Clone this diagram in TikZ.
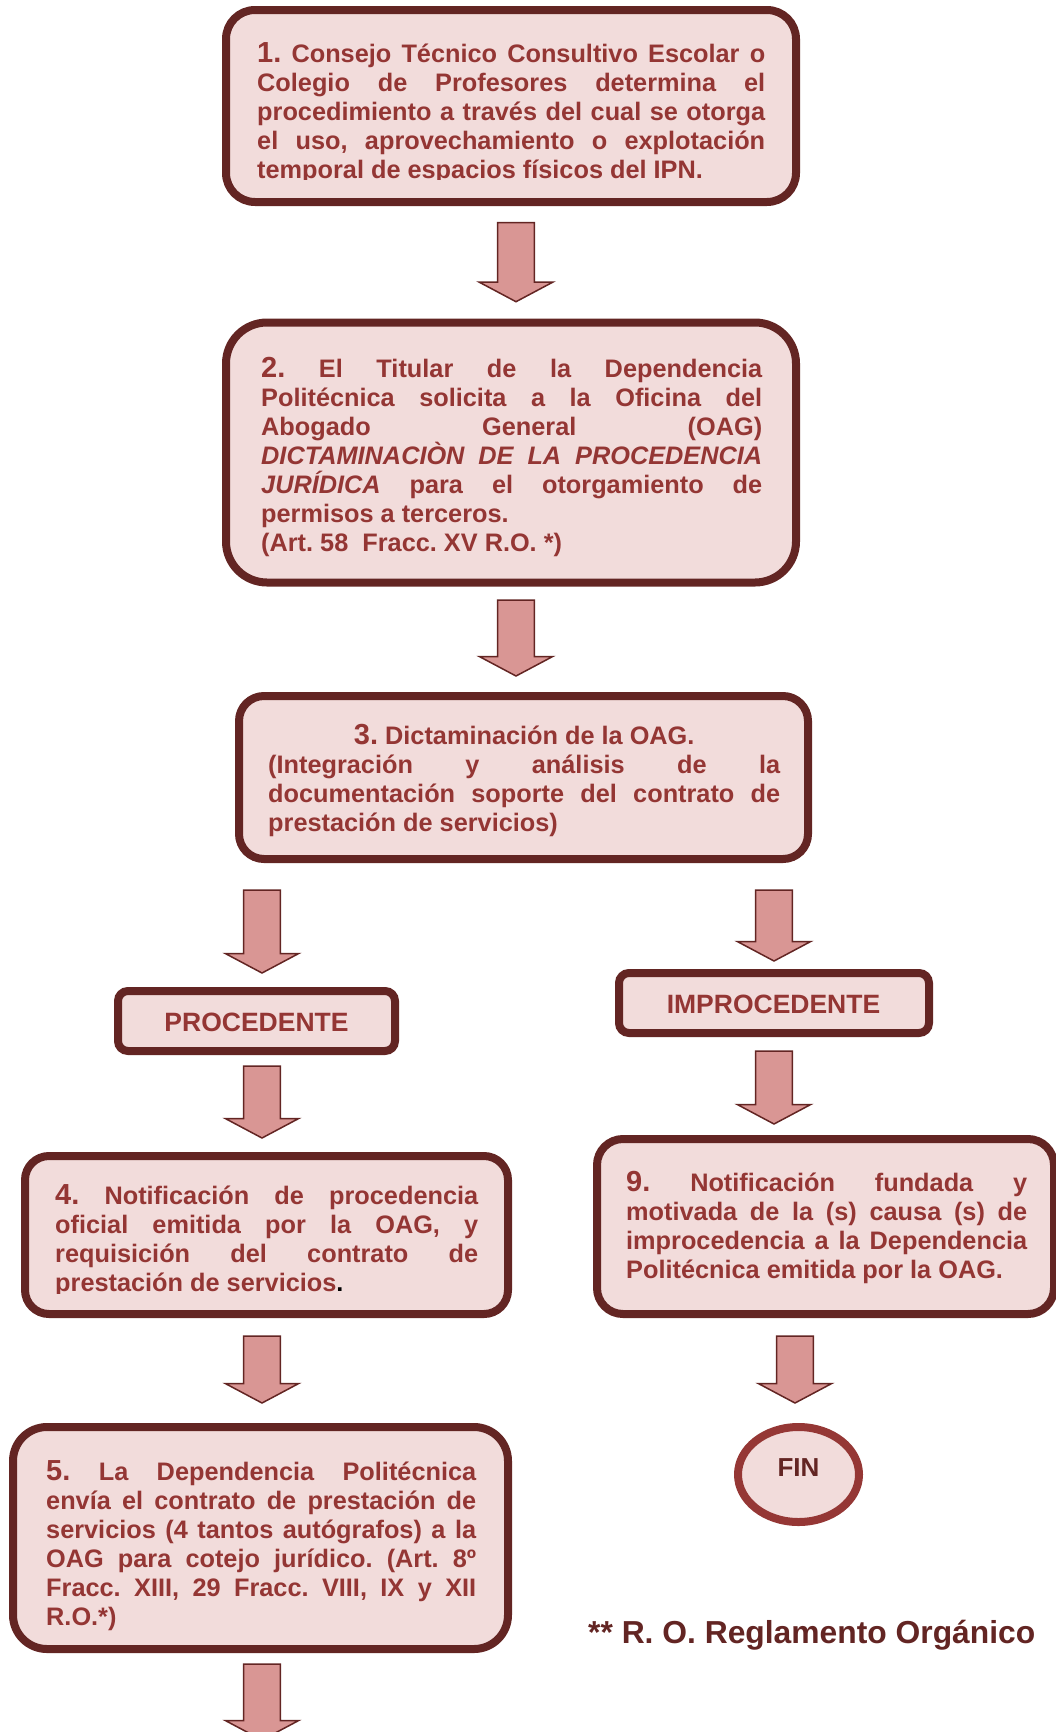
\documentclass[tikz,border=0pt]{standalone}
\usepackage{fontspec}
\setmainfont{Liberation Sans}
\usetikzlibrary{calc,shapes.geometric}
\definecolor{bord}{HTML}{632523}
\definecolor{boxfill}{HTML}{F2DCDB}
\definecolor{txtc}{HTML}{943634}
\definecolor{arrfill}{HTML}{D99694}
\definecolor{finbord}{HTML}{953735}
\tolerance=10000 \hbadness=10000 \hyphenpenalty=10000 \exhyphenpenalty=10000
\frenchspacing
\newcommand{\bignum}[1]{{\fontsize{29}{29}\selectfont #1}}
\newcommand{\blockarrow}[2]{%
  \draw[arrowsty] ($(#1)+(-18.3,0)$) -- ($(#1)+(18.3,0)$) -- ($(#2)+(18.3,-19.5)$)
    -- ($(#2)+(36.7,-19.5)$) -- (#2) -- ($(#2)+(-36.7,-19.5)$) -- ($(#2)+(-18.3,-19.5)$) -- cycle;}
\newcommand{\jbox}[2]{\parbox[t]{#1}{\frenchspacing\tolerance=10000\hyphenpenalty=10000\emergencystretch=0pt #2}}
\begin{document}
\begin{tikzpicture}[x=1pt,y=-1pt,
  stepbox/.style={draw=bord, line width=8pt, fill=boxfill, inner sep=0pt, rectangle},
  txtsty/.style={inner sep=0pt, anchor=base west, text=txtc, font=\bfseries\fontsize{25.3}{29}\selectfont},
  lblsty/.style={inner sep=0pt, anchor=base, text=txtc, font=\bfseries\fontsize{26.5}{30}\selectfont},
  arrowsty/.style={draw=bord, line width=1.5pt, fill=arrfill, line join=miter}]
\useasboundingbox (0,0) rectangle (1056,1732);
\clip (0,0) rectangle (1056,1732);

% boxes
\node[stepbox, minimum width=570pt, minimum height=192pt, rounded corners=29pt] (b1) at (511,106) {};
\node[stepbox, minimum width=570pt, minimum height=260pt, rounded corners=41pt] (b2) at (511,452.5) {};
\node[stepbox, minimum width=569pt, minimum height=163pt, rounded corners=25pt] (b3) at (523.5,777.5) {};
\node[stepbox, minimum width=277pt, minimum height=60pt, rounded corners=10pt] (proc) at (256.5,1021) {};
\node[stepbox, minimum width=310pt, minimum height=60pt, rounded corners=10pt] (improc) at (774,1003) {};
\node[stepbox, minimum width=483pt, minimum height=158pt, rounded corners=24pt] (b4) at (266.5,1235) {};
\node[stepbox, minimum width=457pt, minimum height=175pt, rounded corners=26pt] (b9) at (825.5,1226.5) {};
\node[stepbox, minimum width=495pt, minimum height=222pt, rounded corners=34pt] (b5) at (260.5,1538) {};
\node[draw=finbord, line width=8pt, fill=boxfill, ellipse, minimum width=121pt, minimum height=95pt, inner sep=0pt] (fin) at (798.5,1474.5) {};

% texts
\begin{scope}
\clip (0,0) rectangle (1056,179.5);
\node[txtsty] (t1) at (257,62.5) {\jbox{508pt}{\bignum{1.} Consejo Técnico Consultivo Escolar o\linebreak
Colegio de Profesores determina el\linebreak
procedimiento a través del cual se otorga\linebreak
el uso, aprovechamiento o explotación\linebreak
temporal de espacios físicos del IPN.}};
\end{scope}

\node[txtsty] (t2) at (261,377.3) {\jbox{501pt}{\bignum{2.} El Titular de la Dependencia\linebreak
Politécnica solicita a la Oficina del\linebreak
Abogado General (OAG)\linebreak
\textit{DICTAMINACIÒN DE LA PROCEDENCIA}\linebreak
\textit{JURÍDICA} para el otorgamiento de\linebreak
permisos a terceros.\\
(Art. 58~~Fracc. XV R.O. *)}};

\node[txtsty] (t3) at (268,744) {\jbox{512pt}{\makebox[\linewidth]{\bignum{3.}\ Dictaminación de la OAG.}\par
(Integración y análisis de la\linebreak
documentación soporte del contrato de\linebreak
prestación de servicios)}};

\node[lblsty] (procT) at (256.5,1031) {PROCEDENTE};
\node[lblsty] (improcT) at (773.5,1013.3) {IMPROCEDENTE};

\begin{scope}
\clip (0,1140) rectangle (1056,1293.5);
\node[txtsty] (t4) at (55,1204.3) {\jbox{423pt}{\bignum{4.} Notificación de procedencia\linebreak
oficial emitida por la OAG, y\linebreak
requisición del contrato de\linebreak
prestación de servicios{\color{black}.}}};
\end{scope}

\node[txtsty] (t9) at (626,1191.7) {\jbox{401pt}{\bignum{9.} Notificación fundada y\linebreak
motivada de la (s) causa (s) de\linebreak
improcedencia a la Dependencia\linebreak
Politécnica emitida por la OAG.}};

\node[txtsty] (t5) at (46,1480) {\jbox{430pt}{\bignum{5.} La Dependencia Politécnica\linebreak
envía el contrato de prestación de\linebreak
servicios (4 tantos autógrafos) a la\linebreak
OAG para cotejo jurídico. (Art. 8º\linebreak
Fracc. XIII, 29 Fracc. VIII, IX y XII\linebreak
R.O.*)}};

\node[inner sep=0pt, anchor=base, text=bord, font=\bfseries\fontsize{26}{30}\selectfont] (finT) at (798.5,1476) {FIN};
\node[inner sep=0pt, anchor=base west, text=bord, font=\bfseries\fontsize{31.8}{36}\selectfont] (note) at (588,1643.3) {** R. O. Reglamento Orgánico};

% arrows
\coordinate (a1s) at (516,222.7);  \coordinate (a1e) at (516,301.7);
\coordinate (a2s) at (516,600);    \coordinate (a2e) at (516,676);
\coordinate (a3ls) at (262,890);   \coordinate (a3le) at (262,973);
\coordinate (a3rs) at (774,890);   \coordinate (a3re) at (774,961);
\coordinate (apls) at (262,1066);  \coordinate (aple) at (262,1138);
\coordinate (airs) at (774,1051);  \coordinate (aire) at (774,1124);
\coordinate (a4s) at (262,1336);   \coordinate (a4e) at (262,1403);
\coordinate (a9s) at (795,1336);   \coordinate (a9e) at (795,1403);
\coordinate (a5s) at (262,1664);   \coordinate (a5e) at (262,1740);
\blockarrow{a1s}{a1e}
\blockarrow{a2s}{a2e}
\blockarrow{a3ls}{a3le}
\blockarrow{a3rs}{a3re}
\blockarrow{apls}{aple}
\blockarrow{airs}{aire}
\blockarrow{a4s}{a4e}
\blockarrow{a9s}{a9e}
\blockarrow{a5s}{a5e}
\end{tikzpicture}
\end{document}
